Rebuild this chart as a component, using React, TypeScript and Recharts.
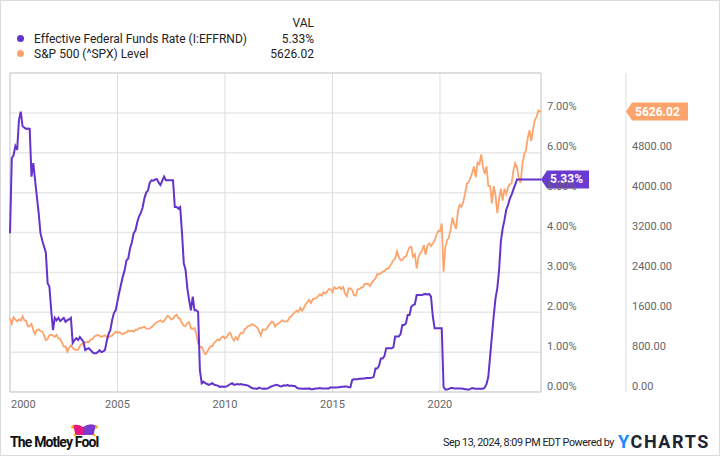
import { CartesianGrid, Line, LineChart, ReferenceArea, ReferenceDot, XAxis, YAxis } from "recharts";

// monthly, Jan 2000 .. Sep 2024
const fedRate = [
  3.98, 5.86, 5.94, 6.17, 6.07, 6.82, 7.03, 6.67, 6.63, 6.6, 6.61, 6.6,
  5.4, 5.74, 5.31, 4.9, 4.49, 3.99, 3.8, 3.65, 3.5, 2.73, 2.64, 2.05,
  1.55, 1.86, 1.8, 1.86, 1.78, 1.82, 1.86, 1.76, 1.8, 1.82, 1.86, 1.23,
  1.3, 1.35, 1.3, 1.38, 1.32, 1.26, 1.05, 1.08, 1.1, 1.05, 1.0, 0.97,
  0.97, 1.0, 1.05, 1.0, 1.02, 1.05, 1.28, 1.45, 1.55, 1.8, 1.98, 2.05,
  2.28, 2.5, 2.7, 2.9, 3.05, 3.3, 3.35, 3.6, 3.75, 3.98, 4.05, 4.25,
  4.4, 4.49, 4.62, 4.85, 5.0, 5.05, 5.25, 5.31, 5.3, 5.33, 5.34, 5.25,
  5.19, 5.3, 5.4, 5.31, 5.31, 5.31, 5.31, 5.31, 4.64, 4.64, 4.6, 4.64,
  4.0, 3.23, 3.06, 2.6, 2.3, 2.05, 2.39, 2.05, 2.05, 2.01, 0.55, 0.22,
  0.26, 0.22, 0.2, 0.18, 0.2, 0.22, 0.18, 0.17, 0.16, 0.13, 0.14, 0.13,
  0.13, 0.14, 0.17, 0.2, 0.22, 0.18, 0.19, 0.2, 0.19, 0.2, 0.18, 0.18,
  0.17, 0.16, 0.13, 0.1, 0.09, 0.09, 0.08, 0.11, 0.09, 0.08, 0.09, 0.08,
  0.09, 0.12, 0.14, 0.16, 0.17, 0.18, 0.16, 0.14, 0.15, 0.17, 0.16, 0.18,
  0.15, 0.16, 0.15, 0.15, 0.11, 0.09, 0.09, 0.08, 0.08, 0.09, 0.08, 0.09,
  0.07, 0.07, 0.08, 0.09, 0.09, 0.1, 0.09, 0.09, 0.09, 0.09, 0.09, 0.12,
  0.11, 0.11, 0.11, 0.12, 0.12, 0.13, 0.13, 0.14, 0.14, 0.12, 0.12, 0.3,
  0.32, 0.32, 0.32, 0.33, 0.33, 0.34, 0.34, 0.35, 0.35, 0.35, 0.36, 0.38,
  0.59, 0.59, 0.66, 0.84, 0.84, 0.9, 1.1, 1.1, 1.1, 1.1, 1.12, 1.39,
  1.39, 1.39, 1.45, 1.68, 1.68, 1.72, 1.93, 1.93, 2.14, 2.18, 2.2, 2.43,
  2.43, 2.43, 2.43, 2.45, 2.46, 2.44, 2.46, 2.39, 1.9, 1.6, 1.6, 1.6,
  1.6, 1.6, 0.13, 0.06, 0.06, 0.08, 0.1, 0.1, 0.09, 0.09, 0.09, 0.09,
  0.09, 0.08, 0.07, 0.07, 0.06, 0.08, 0.1, 0.09, 0.08, 0.08, 0.08, 0.08,
  0.08, 0.11, 0.2, 0.38, 0.9, 1.4, 1.9, 2.35, 2.6, 3.06, 3.78, 4.1,
  4.31, 4.57, 4.69, 4.85, 4.95, 5.08, 5.2, 5.33, 5.33, 5.33, 5.33, 5.33,
  5.33, 5.33, 5.33, 5.33, 5.33, 5.33, 5.33, 5.33, 5.33,
];

const spxLevel = [
  1477, 1366, 1499, 1452, 1421, 1455, 1431, 1518, 1437, 1429, 1315, 1320,
  1366, 1240, 1160, 1249, 1256, 1224, 1211, 1134, 1041, 1060, 1139, 1148,
  1130, 1107, 1147, 1077, 1067, 990, 912, 916, 808, 886, 936, 880,
  856, 841, 848, 917, 964, 975, 990, 1008, 996, 1051, 1058, 1112,
  1131, 1145, 1126, 1107, 1121, 1141, 1102, 1104, 1115, 1130, 1174, 1212,
  1181, 1204, 1181, 1157, 1192, 1191, 1234, 1220, 1229, 1207, 1249, 1248,
  1280, 1281, 1295, 1311, 1270, 1270, 1277, 1304, 1336, 1378, 1401, 1418,
  1438, 1407, 1421, 1482, 1531, 1503, 1455, 1474, 1527, 1549, 1481, 1468,
  1379, 1331, 1323, 1386, 1400, 1280, 1267, 1283, 1166, 969, 896, 903,
  826, 760, 798, 873, 919, 919, 987, 1021, 1057, 1036, 1096, 1115,
  1074, 1104, 1169, 1187, 1089, 1031, 1102, 1049, 1141, 1183, 1181, 1258,
  1286, 1327, 1326, 1364, 1345, 1321, 1292, 1219, 1131, 1253, 1247, 1258,
  1312, 1366, 1408, 1398, 1310, 1362, 1379, 1407, 1441, 1412, 1416, 1426,
  1498, 1515, 1569, 1598, 1631, 1606, 1686, 1633, 1682, 1757, 1806, 1848,
  1783, 1859, 1872, 1884, 1924, 1960, 1931, 2003, 1972, 2018, 2068, 2059,
  1995, 2105, 2068, 2086, 2107, 2063, 2104, 1972, 1920, 2079, 2080, 2044,
  1940, 1932, 2060, 2065, 2097, 2099, 2174, 2171, 2168, 2126, 2199, 2239,
  2279, 2364, 2363, 2384, 2412, 2423, 2470, 2472, 2519, 2575, 2648, 2674,
  2824, 2714, 2641, 2648, 2705, 2718, 2816, 2902, 2914, 2712, 2760, 2480,
  2704, 2784, 2834, 2946, 2752, 2942, 2980, 2926, 2977, 3038, 3141, 3231,
  3226, 3380, 2412, 2912, 3044, 3100, 3271, 3500, 3363, 3270, 3622, 3756,
  3714, 3811, 3973, 4181, 4204, 4298, 4395, 4523, 4308, 4605, 4567, 4766,
  4516, 4374, 4530, 4132, 4132, 3785, 4130, 3955, 3586, 3872, 4080, 3840,
  4077, 3970, 4109, 4169, 4180, 4450, 4589, 4508, 4288, 4194, 4568, 4770,
  4846, 5096, 5254, 5036, 5278, 5460, 5522, 5648, 5626.02,
];

const startYear = 2000;
const endYear = 2024.7;
const yearTicks = [2000, 2005, 2010, 2015, 2020];
const pctTicks = [0, 1, 2, 3, 4, 5, 6, 7];
const spxTicks = [0, 800, 1600, 2400, 3200, 4000, 4800];
const fedLatest = 5.33;
const spxLatest = 5626.02;

const data = fedRate.map((v, i) => ({ t: startYear + i / 12, fed: v, spx: spxLevel[i] }));
data.push({ t: endYear, fed: fedLatest, spx: spxLatest });

const PURPLE = "#6433cc";
const ORANGE = "#fda46c";
const FONT = "Roboto, sans-serif";

const XTick = (props: any) => {
  const { x, y, payload } = props;
  const first = payload.value === yearTicks[0];
  return (
    <text x={first ? x + 1 : x} y={y} dy="0.71em" textAnchor={first ? "start" : "middle"} fill="#666" fontSize={11} fontFamily={FONT}>
      {payload.value}
    </text>
  );
};

const makeYTick = (fmt: (v: number) => string) => (props: any) => {
  const { x, y, payload } = props;
  return (
    <text x={x} y={y - 6} dominantBaseline="central" textAnchor="start" fill="#666" fontSize={11} fontFamily={FONT}>
      {fmt(payload.value)}
    </text>
  );
};

const pctTick = makeYTick((v) => v.toFixed(2) + "%");
const spxTick = makeYTick((v) => v.toFixed(2));

const Badge = ({ cx, cy, text, color, offset, w }: any) => (
  <g>
    <path d={`M${cx + offset},${cy} L${cx + offset + 6},${cy - 9} H${cx + offset + w} V${cy + 9} H${cx + offset + 6} Z`} fill={color} />
    <text x={cx + offset + 9} y={cy} dominantBaseline="central" fill="#fff" fontSize={12} fontWeight={700} fontFamily={FONT}>
      {text}
    </text>
  </g>
);

const legendRow = { position: "absolute" as const, left: 14, width: 300, height: 15, display: "flex", alignItems: "center" };

export default function App() {
  return (
    <div style={{ position: "absolute", left: 0, top: 0, width: 720, height: 456, background: "#fff", fontFamily: FONT, color: "#222" }}>
      <LineChart width={720} height={456} data={data} margin={{ top: 73, right: 0, left: 10, bottom: 34 }}>
        <CartesianGrid yAxisId="pct" vertical={false} stroke="#e8e8e8" strokeWidth={1.5} />
        <CartesianGrid yAxisId="pct" horizontal={false} stroke="#dedede" />
        <XAxis dataKey="t" type="number" domain={[startYear, endYear]} ticks={yearTicks} interval={0} axisLine={false} tickLine={false} height={30} tick={<XTick />} />
        <YAxis yAxisId="pct" orientation="right" width={85} domain={[0, 8]} ticks={pctTicks} interval={0} axisLine={false} tickLine={false} tickMargin={0} tick={pctTick} />
        <YAxis yAxisId="spx" orientation="right" width={94} domain={[0, 6400]} ticks={spxTicks} interval={0} axisLine={{ stroke: "#dddddd" }} tickLine={false} tickMargin={0} tick={spxTick} />
        <ReferenceArea yAxisId="pct" x1={startYear} x2={endYear} y1={0} y2={8} fill="none" stroke="#cfcfcf" strokeOpacity={1} />
        <Line yAxisId="spx" dataKey="spx" stroke={ORANGE} strokeWidth={1.8} dot={false} isAnimationActive={false} />
        <Line yAxisId="pct" dataKey="fed" stroke={PURPLE} strokeWidth={2} dot={false} isAnimationActive={false} />
        <ReferenceDot yAxisId="pct" x={endYear} y={fedLatest} shape={(p: any) => <Badge cx={p.cx} cy={p.cy} text={fedLatest.toFixed(2) + "%"} color="#6a3bd0" offset={0} w={48} />} />
        <ReferenceDot yAxisId="spx" x={endYear} y={spxLatest} shape={(p: any) => <Badge cx={p.cx} cy={p.cy} text={spxLatest.toFixed(2)} color={ORANGE} offset={85} w={62} />} />
      </LineChart>

      <div style={{ position: "absolute", left: 0, top: 0, width: 314, fontSize: 12 }}>
        <div style={{ position: "absolute", right: 0, top: 16, lineHeight: "15px" }}>VAL</div>
        <div style={{ ...legendRow, top: 31 }}>
          <span style={{ width: 7, height: 7, borderRadius: 4, background: PURPLE, marginLeft: 3 }} />
          <span style={{ marginLeft: 10, flex: 1 }}>Effective Federal Funds Rate (I:EFFRND)</span>
          <span>5.33%</span>
        </div>
        <div style={{ ...legendRow, top: 46 }}>
          <span style={{ width: 7, height: 7, borderRadius: 4, background: ORANGE, marginLeft: 3 }} />
          <span style={{ marginLeft: 10, flex: 1 }}>S&amp;P 500 (^SPX) Level</span>
          <span>5626.02</span>
        </div>
      </div>

      <div style={{ position: "absolute", left: 10, top: 435, fontSize: 14, fontWeight: 700, letterSpacing: -0.85, color: "#111", lineHeight: "15px" }}>
        The Motley Fool
      </div>
      <svg style={{ position: "absolute", left: 71, top: 423 }} width={28} height={14}>
        <path d="M1,3 Q6,0 12,4 L12,12 L4,12 Q4,6 1,3 Z" fill="#e8197d" />
        <path d="M12,4 Q19,-1 26,3 Q23,6 23,12 L12,12 Z" fill="#7a3ccc" />
        <circle cx={1.5} cy={4} r={1.5} fill="#f5b400" />
        <circle cx={25.5} cy={4} r={1.5} fill="#f5b400" />
        <circle cx={4} cy={12} r={1.3} fill="#f5b400" />
        <circle cx={23} cy={12} r={1.3} fill="#f5b400" />
      </svg>

      <div style={{ position: "absolute", left: 443, top: 436, fontSize: 10.8, color: "#222", lineHeight: "14px", whiteSpace: "nowrap", letterSpacing: -0.45 }}>
        Sep 13, 2024, 8:09 PM EDT Powered by
      </div>
      <div style={{ position: "absolute", left: 618, top: 431, fontSize: 18, fontWeight: 700, letterSpacing: 1.6, lineHeight: "22px", color: "#1c2331", whiteSpace: "nowrap" }}>
        <span style={{ color: "#1a8cff" }}>Y</span>CHARTS
      </div>

      <div style={{ position: "absolute", left: 0, top: 0, width: 720, height: 456, boxSizing: "border-box", border: "1px solid #dcdcdc", pointerEvents: "none" }} />
    </div>
  );
}
